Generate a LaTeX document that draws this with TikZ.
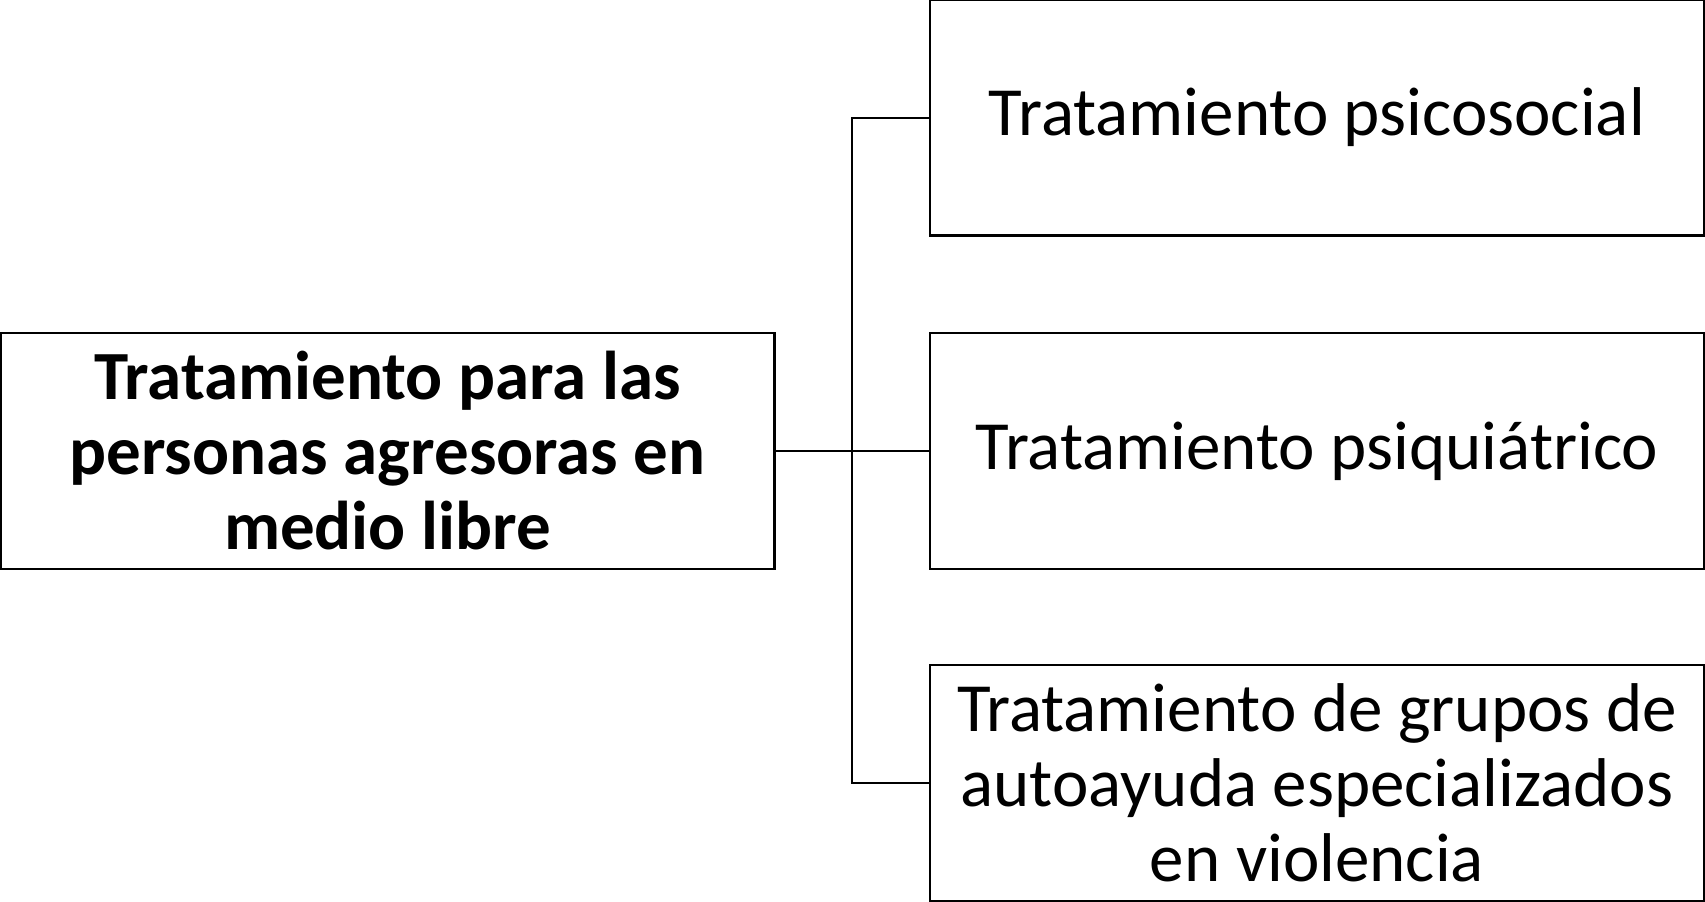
\documentclass[tikz,border=0pt]{standalone}
\usepackage{fontspec}
\setmainfont{Carlito}
\usepackage{tikz}

\begin{document}
\begin{tikzpicture}[x=0.5pt,y=-0.5pt,
  caja/.style={draw,line width=1.2pt,align=center,inner sep=0pt,
    minimum width=387pt,minimum height=118pt,
    font=\fontsize{34.5}{37.5}\selectfont}]
\useasboundingbox (0,0) rectangle (1705,901);
\node[caja,font=\fontsize{34.5}{37.5}\selectfont\bfseries] (raiz) at (387.5,451) {Tratamiento para las\\personas agresoras en\\medio libre};
\node[caja] (psicosocial) at (1317,117.5) {Tratamiento psicosocial};
\node[caja] (psiquiatrico) at (1317,451) {Tratamiento psiqui\'atrico};
\node[caja] (autoayuda) at (1317,783) {Tratamiento de grupos de\\autoayuda especializados\\en violencia};
\coordinate (tronco) at (852,451);
\draw[line width=1pt] (raiz.east) -- (psiquiatrico.west);
\draw[line width=1pt] (psicosocial.west) -| (tronco) |- (autoayuda.west);
\end{tikzpicture}
\end{document}
